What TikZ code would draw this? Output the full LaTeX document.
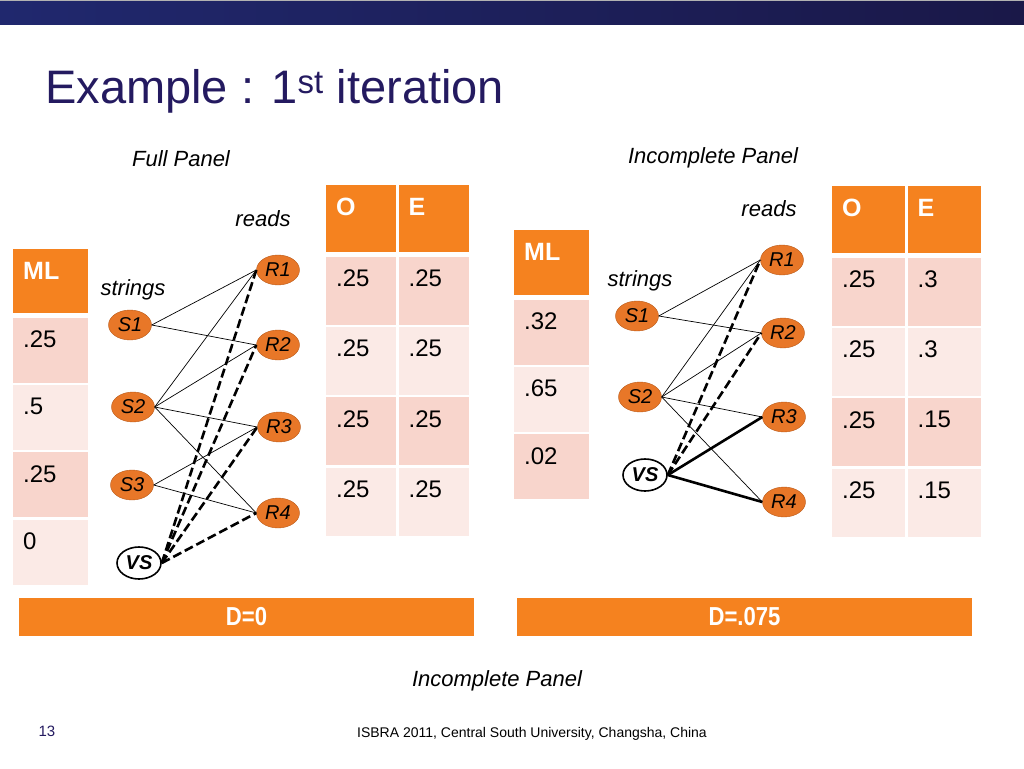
\documentclass[tikz,border=0pt]{standalone}
\usepackage{fontspec}
\setmainfont{Liberation Sans}
\usetikzlibrary{shapes.geometric, positioning}
\definecolor{pptorange}{RGB}{245,130,31}
\definecolor{rowdark}{RGB}{248,213,204}
\definecolor{rowlight}{RGB}{251,234,230}
\definecolor{nodeorange}{RGB}{232,119,40}
\definecolor{nodeedge}{RGB}{185,90,25}
\definecolor{titleblue}{RGB}{36,26,96}
\definecolor{bannerdark}{RGB}{32,40,110}
\definecolor{bannermid}{RGB}{44,72,165}
\definecolor{bannerend}{RGB}{26,24,72}
\tikzset{
    head_cell/.style={rectangle, fill=pptorange, minimum height=67pt, inner sep=0pt, anchor=north west},
    dark_cell/.style={rectangle, fill=rowdark, minimum height=68pt, inner sep=0pt},
    light_cell/.style={rectangle, fill=rowlight, minimum height=68pt, inner sep=0pt},
    cell_text/.style={anchor=north west, inner sep=0pt, xshift=10pt, yshift=-13pt, font=\fontsize{24}{28}\selectfont},
    head_text/.style={cell_text, text=white, font=\fontsize{25}{28}\selectfont\bfseries},
    read_node/.style={ellipse, draw=nodeedge, fill=nodeorange, minimum width=43pt, minimum height=30pt, inner sep=0pt, font=\fontsize{20}{22}\selectfont\itshape},
    vs_node/.style={ellipse, draw, line width=1.6pt, fill=white, minimum width=44pt, minimum height=32pt, inner sep=0pt, font=\fontsize{20}{22}\selectfont\bfseries\itshape},
    note/.style={font=\fontsize{22}{26}\selectfont\itshape, inner sep=0pt},
    link/.style={black, line width=0.7pt},
    vlink/.style={black, line width=2.6pt, dash pattern=on 9pt off 4pt},
    vlink_solid/.style={black, line width=2.6pt},
    d_bar/.style={rectangle, fill=pptorange, minimum width=455pt, minimum height=38pt, inner sep=0pt, text=white, font=\fontsize{26}{30}\selectfont\bfseries}
}
\begin{document}
\begin{tikzpicture}[x=1pt, y=-1pt, node distance=2pt]
			\useasboundingbox (0,0) rectangle (1024,768);
			% banner and title
			\shade [left color=bannerdark, middle color=bannermid, right color=bannerend] (0,0) rectangle (1024,25);
			\draw [gray!60, line width=1.5pt] (0,0.75) -- (1024,0.75);
			\node (title) [anchor=base west, inner sep=0pt, text=titleblue, font=\fontsize{47}{56}\selectfont] at (45,103) {Example : 1\textsuperscript{st} iteration};

			% full panel tables
			\node (fml) [head_cell, minimum width=75pt, minimum height=64pt, label={[head_text]north west:ML}] at (13,249) {};
			\node (fml1) [dark_cell, minimum width=75pt, minimum height=65pt, below=4pt of fml, label={[cell_text]north west:.25}] {};
			\node (fml2) [light_cell, minimum width=75pt, minimum height=65pt, below=of fml1, label={[cell_text]north west:.5}] {};
			\node (fml3) [dark_cell, minimum width=75pt, minimum height=65pt, below=of fml2, label={[cell_text]north west:.25}] {};
			\node (fml4) [light_cell, minimum width=75pt, minimum height=65pt, below=of fml3, label={[cell_text]north west:0}] {};

			\node (fo) [head_cell, minimum width=70pt, label={[head_text]north west:O}] at (326,185) {};
			\node (fe) [head_cell, minimum width=70pt, right=of fo, label={[head_text]north west:E}] {};
			\node (fo1) [dark_cell, minimum width=70pt, below=4pt of fo, label={[cell_text]north west:.25}] {};
			\node (fe1) [dark_cell, minimum width=70pt, below=4pt of fe, label={[cell_text]north west:.25}] {};
			\node (fo2) [light_cell, minimum width=70pt, below=of fo1, label={[cell_text]north west:.25}] {};
			\node (fe2) [light_cell, minimum width=70pt, below=of fe1, label={[cell_text]north west:.25}] {};
			\node (fo3) [dark_cell, minimum width=70pt, below=of fo2, label={[cell_text]north west:.25}] {};
			\node (fe3) [dark_cell, minimum width=70pt, below=of fe2, label={[cell_text]north west:.25}] {};
			\node (fo4) [light_cell, minimum width=70pt, below=of fo3, label={[cell_text]north west:.25}] {};
			\node (fe4) [light_cell, minimum width=70pt, below=of fe3, label={[cell_text]north west:.25}] {};

			% incomplete panel tables
			\node (iml) [head_cell, minimum width=75pt, minimum height=65pt, label={[head_text]north west:ML}] at (514,230) {};
			\node (iml1) [dark_cell, minimum width=75pt, minimum height=65pt, below=4pt of iml, label={[cell_text]north west:.32}] {};
			\node (iml2) [light_cell, minimum width=75pt, minimum height=65pt, below=of iml1, label={[cell_text]north west:.65}] {};
			\node (iml3) [dark_cell, minimum width=75pt, minimum height=65pt, below=of iml2, label={[cell_text]north west:.02}] {};

			\node (io) [head_cell, minimum width=73pt, label={[head_text]north west:O}] at (832,186) {};
			\node (ie) [head_cell, minimum width=73pt, right=of io, label={[head_text]north west:E}] {};
			\node (io1) [dark_cell, minimum width=73pt, below=4pt of io, label={[cell_text]north west:.25}] {};
			\node (ie1) [dark_cell, minimum width=73pt, below=4pt of ie, label={[cell_text]north west:.3}] {};
			\node (io2) [light_cell, minimum width=73pt, below=of io1, label={[cell_text]north west:.25}] {};
			\node (ie2) [light_cell, minimum width=73pt, below=of ie1, label={[cell_text]north west:.3}] {};
			\node (io3) [dark_cell, minimum width=73pt, below=of io2, label={[cell_text]north west:.25}] {};
			\node (ie3) [dark_cell, minimum width=73pt, below=of ie2, label={[cell_text]north west:.15}] {};
			\node (io4) [light_cell, minimum width=73pt, below=of io3, label={[cell_text]north west:.25}] {};
			\node (ie4) [light_cell, minimum width=73pt, below=of ie3, label={[cell_text]north west:.15}] {};

			% full panel graph
			\node (fpanel) [note] at (181,159) {Full Panel};
			\node (freads) [note] at (263,219) {reads};
			\node (fstrings) [note] at (133,290) {strings};
			\node (fs1) [read_node] at (130,325) {S1};
			\node (fs2) [read_node] at (133,407) {S2};
			\node (fs3) [read_node] at (132,485) {S3};
			\node (fvs) [vs_node] at (139,563) {VS};
			\node (fr1) [read_node] at (278,270) {R1};
			\node (fr2) [read_node] at (278,345) {R2};
			\node (fr3) [read_node] at (279,427) {R3};
			\node (fr4) [read_node] at (278,513) {R4};

			\draw [link] (fs1.east) -- (fr1.west);
			\draw [link] (fs1.east) -- (fr2.west);
			\draw [link] (fs2.east) -- (fr1.west);
			\draw [link] (fs2.east) -- (fr2.west);
			\draw [link] (fs2.east) -- (fr3.west);
			\draw [link] (fs2.east) -- (fr4.west);
			\draw [link] (fs3.east) -- (fr3.west);
			\draw [link] (fs3.east) -- (fr4.west);
			\draw [vlink] (fvs.east) -- (fr1.west);
			\draw [vlink] (fvs.east) -- (fr2.west);
			\draw [vlink] (fvs.east) -- (fr3.west);
			\draw [vlink] (fvs.east) -- (fr4.west);

			% incomplete panel graph
			\node (ipanel) [note] at (713,158) {Incomplete Panel};
			\node (ireads) [note] at (769,209) {reads};
			\node (istrings) [note] at (640,281) {strings};
			\node (is1) [read_node] at (637,316) {S1};
			\node (is2) [read_node] at (640,397) {S2};
			\node (ivs) [vs_node] at (645,475) {VS};
			\node (ir1) [read_node] at (782,260) {R1};
			\node (ir2) [read_node] at (783,333) {R2};
			\node (ir3) [read_node] at (784,417) {R3};
			\node (ir4) [read_node] at (784,502) {R4};

			\draw [link] (is1.east) -- (ir1.west);
			\draw [link] (is1.east) -- (ir2.west);
			\draw [link] (is2.east) -- (ir1.west);
			\draw [link] (is2.east) -- (ir2.west);
			\draw [link] (is2.east) -- (ir3.west);
			\draw [link] (is2.east) -- (ir4.west);
			\draw [vlink] (ivs.east) -- (ir1.west);
			\draw [vlink] (ivs.east) -- (ir2.west);
			\draw [vlink_solid] (ivs.east) -- (ir3.west);
			\draw [vlink_solid] (ivs.east) -- (ir4.west);

			% distance bars and footer
			\node (fd) [d_bar] at (246.5,617) {\scalebox{0.85}[1]{D=0}};
			\node (id) [d_bar] at (744.5,617) {\scalebox{0.85}[1]{D=.075}};
			\node (bpanel) [note] at (497,681) {Incomplete Panel};
			\node (page) [inner sep=0pt, text=titleblue, font=\fontsize{15}{17}\selectfont] at (47,731) {13};
			\node (footer) [inner sep=0pt, font=\fontsize{14}{16}\selectfont] at (532,734) {ISBRA 2011, Central South University, Changsha, China};
		\end{tikzpicture}
\end{document}
